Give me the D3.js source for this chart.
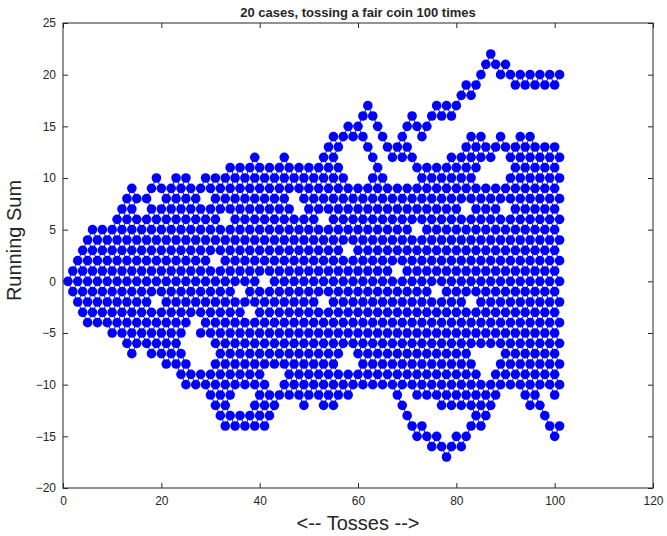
<!DOCTYPE html>
<html>
<head>
<meta charset="utf-8">
<script src="https://cdn.jsdelivr.net/npm/d3@7"></script>
<style>
  body { margin: 0; background: #fff; }
  text { font-family: "Liberation Sans", "DejaVu Sans", sans-serif; fill: #262626; }
</style>
</head>
<body>
<div id="my_dataviz"></div>
<script>
// occupied running-sum values per toss (toss = index + 1)
// "a..b" = every reachable value from a to b, separate groups split by spaces
const columns = [
  "0..0", "-1..1", "-2..2", "-3..3", "-4..4", "-3..5", "-4..4", "-3..5", "-4..4", "-5..5",
  "-4..6", "-5..7", "-6..8", "-7..9", "-6..8", "-5..7", "-6..8", "-7..9", "-6..10", "-7..9",
  "-8..8", "-7..9", "-8..10", "-9..9", "-10..10", "-9..9", "-10..8", "-9..9", "-10..10", "-11..9",
  "-12..10", "-13..9", "-14..10", "-13..11", "-14..10", "-13..11", "-14..10", "-13..11", "-14..12", "-13..11",
  "-14..10", "-13..11", "-12..10", "-11..11", "-10..12", "-11..11", "-10..10", "-11..11", "-12..10", "-11..11",
  "-10..10", "-11..11", "-12..12", "-11..13", "-12..14", "-11..13", "-10..10 14..14", "-11..9 15..15", "-10..8 14..14", "-9..9 15..15",
  "-10..8 14..16", "-9..9 13..13 17..17", "-10..12 16..16", "-9..11 15..15", "-10..10 14..14", "-9..9 13..13", "-10..8 12..12", "-11..9 13..13", "-12..8 12..14", "-13..-13 -9..9 13..15",
  "-14..-14 -10..8 12..12 16..16", "-15..-15 -11..11 15..15", "-14..-14 -10..10 14..14", "-15..-15 -11..11 15..15", "-16..-16 -10..10 16..16", "-15..-15 -11..11 17..17", "-16..-16 -12..10 16..16", "-17..-17 -11..11 17..17", "-16..-16 -12..12 16..16", "-15..-15 -11..11 17..17",
  "-16..-16 -12..12 18..18", "-15..-15 -11..13 19..19", "-14..14 18..18", "-13..13 19..19", "-14..8 12..14 20..20", "-13..9 13..13 21..21", "-12..8 12..12 22..22", "-11..9 13..13 21..21", "-10..8 14..14 20..20", "-9..9 13..13 21..21",
  "-10..12 20..20", "-9..13 19..19", "-10..14 20..20", "-11..13 19..19", "-12..14 20..20", "-11..13 19..19", "-12..12 20..20", "-13..-13 -9..13 19..19", "-14..-14 -10..12 20..20", "-15..-15 -11..13 19..19",
  "-14..-14 -10..12 20..20"
];

// empty spots inside the filled band [toss, sum]
const holes = [
  [16, 7], [19, 8], [19, -2], [29, 8], [33, 6], [31, 2], [36, -1], [38, -3], [27, -4],
  [25, -6], [26, -5], [26, -7], [27, -6], [27, -8], [28, -7], [29, -6], [29, -8], [30, -7],
  [35, -12], [36, -11], [37, -12], [38, -11],
  [41, 0], [42, -9], [43, -10], [44, -9], [47, 8], [48, 7], [53, 6], [53, -2],
  [57, -8], [58, -7], [59, -8], [58, 3],
  [68, 1], [72, 5], [76, -1], [82, 7], [90, 7], [83, -2],
  [84, -7], [85, -8], [86, -7], [86, -9], [87, -8], [88, -7]
];

const xTicks = [0, 20, 40, 60, 80, 100, 120];
const yTicks = [-20, -15, -10, -5, 0, 5, 10, 15, 20, 25];

const titleText = "20 cases, tossing a fair coin 100 times";
const xLabel = "<-- Tosses -->";
const yLabel = "Running Sum";

// turn the column strings into points
const holeSet = new Set(holes.map(h => h[0] + ":" + h[1]));
const points = [];
columns.forEach(function(col, i) {
  const toss = i + 1;
  col.split(" ").forEach(function(part) {
    const ab = part.split("..").map(Number);
    for (let v = ab[0]; v <= ab[1]; v++) {
      if (Math.abs(v - (toss - 1)) % 2 !== 0) continue;
      if (holeSet.has(toss + ":" + v)) continue;
      points.push({x: toss, y: v});
    }
  });
});
const pointSet = new Set(points.map(p => p.x + ":" + p.y));

const W = 667, H = 536;
const margin = {top: 23, right: 14, bottom: 48, left: 63};
const width = W - margin.left - margin.right,
      height = H - margin.top - margin.bottom;

const svg = d3.select("#my_dataviz")
  .append("svg")
    .attr("width", W)
    .attr("height", H)
  .append("g")
    .attr("transform", `translate(${margin.left},${margin.top})`);

const x = d3.scaleLinear().domain([0, 120]).range([0, width]);
const y = d3.scaleLinear().domain([-20, 25]).range([height, 0]);

// connecting segments between neighbouring tosses
const links = [];
points.forEach(function(p) {
  [1, -1].forEach(function(d) {
    if (pointSet.has((p.x + 1) + ":" + (p.y + d))) links.push([p, {x: p.x + 1, y: p.y + d}]);
  });
});

svg.append("g")
  .selectAll("line")
  .data(links)
  .join("line")
    .attr("x1", d => x(d[0].x))
    .attr("y1", d => y(d[0].y))
    .attr("x2", d => x(d[1].x))
    .attr("y2", d => y(d[1].y))
    .attr("stroke", "#0000ff")
    .attr("stroke-width", 1);

svg.append("g")
  .selectAll("circle")
  .data(points)
  .join("circle")
    .attr("cx", d => x(d.x))
    .attr("cy", d => y(d.y))
    .attr("r", 4.8)
    .attr("fill", "#0000ff");

// axes, matlab style: box with inward ticks
const axisColor = "#262626";
svg.append("rect")
  .attr("width", width)
  .attr("height", height)
  .attr("fill", "none")
  .attr("stroke", axisColor)
  .attr("stroke-width", 1);

const xAxis = svg.append("g")
  .attr("transform", `translate(0,${height})`)
  .call(d3.axisBottom(x).tickValues(xTicks).tickSizeInner(-5).tickSizeOuter(0).tickPadding(8));
const xAxisTop = svg.append("g")
  .call(d3.axisTop(x).tickValues(xTicks).tickSizeInner(-5).tickSizeOuter(0).tickFormat(""));
const yAxis = svg.append("g")
  .call(d3.axisLeft(y).tickValues(yTicks).tickSizeInner(-5).tickSizeOuter(0).tickPadding(7));
const yAxisRight = svg.append("g")
  .attr("transform", `translate(${width},0)`)
  .call(d3.axisRight(y).tickValues(yTicks).tickSizeInner(-5).tickSizeOuter(0).tickFormat(""));

[xAxis, xAxisTop, yAxis, yAxisRight].forEach(function(a) {
  a.select(".domain").remove();
  a.selectAll(".tick line").attr("stroke", axisColor);
  a.selectAll(".tick text").style("font-size", "12px").attr("fill", axisColor);
});

// title and labels
svg.append("text")
  .attr("x", width / 2)
  .attr("y", -6)
  .attr("text-anchor", "middle")
  .style("font-size", "13px")
  .style("font-weight", "bold")
  .text(titleText);

svg.append("text")
  .attr("x", width / 2)
  .attr("y", height + 42)
  .attr("text-anchor", "middle")
  .style("font-size", "20px")
  .text(xLabel);

svg.append("text")
  .attr("transform", "rotate(-90)")
  .attr("x", -height / 2 + 15)
  .attr("y", -42)
  .attr("text-anchor", "middle")
  .style("font-size", "20px")
  .text(yLabel);
</script>
</body>
</html>
